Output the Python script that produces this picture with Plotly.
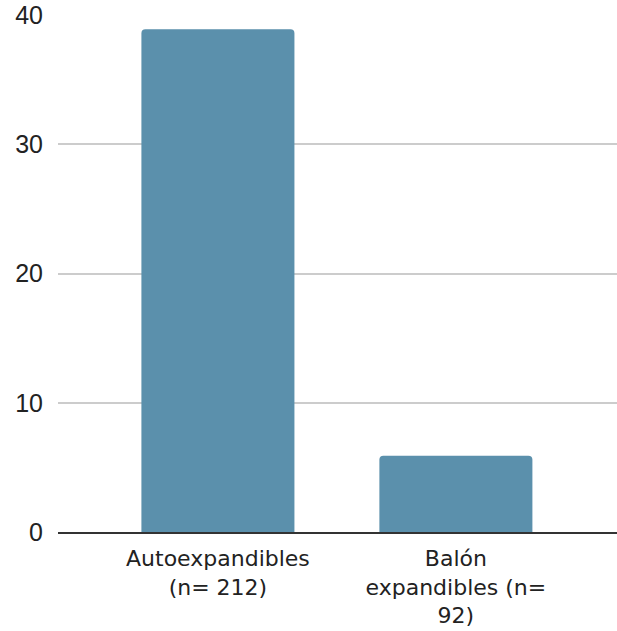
import plotly.graph_objects as go

categories = ["Autoexpandibles<br>(n= 212)", "Balón<br>expandibles (n=<br>92)"]
values = [38.9, 5.9]
y_ticks = [0, 10, 20, 30, 40]

fig = go.Figure(go.Bar(
    x=categories, y=values,
    marker=dict(color="#5B90AC", line=dict(width=0)),
    width=0.643,
))

fig.update_layout(
    width=617, height=631,
    margin=dict(l=58, r=0, t=15, b=99),
    paper_bgcolor="white", plot_bgcolor="white",
    font=dict(family="Liberation Sans, Arial, sans-serif", size=22, color="#222222"),
    barcornerradius=4,
    showlegend=False,
)
fig.update_xaxes(
    range=[-0.672, 1.677],
    showgrid=False, showline=True, linecolor="#333333", linewidth=1.5,
    ticks="", tickfont=dict(family="DejaVu Sans, sans-serif", size=22, color="#222222"),
    ticklabelstandoff=6,
)
fig.update_yaxes(
    range=[0, 40], tickvals=y_ticks,
    showgrid=True, gridcolor="#cccccc", gridwidth=1.5,
    zeroline=False, showline=False, ticks="",
    tickfont=dict(size=25, color="#222222"),
    ticklabelstandoff=14,
)

fig.write_html("out.html")
